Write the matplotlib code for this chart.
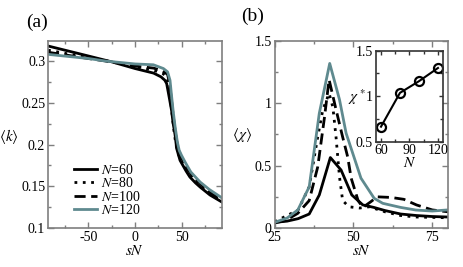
import numpy as np
import matplotlib
matplotlib.use('Agg')
import matplotlib.pyplot as plt
from matplotlib.ticker import MultipleLocator

plt.rcParams['font.family'] = ['Liberation Serif', 'DejaVu Serif']
plt.rcParams['mathtext.fontset'] = 'stix'
plt.rcParams['axes.unicode_minus'] = False

# ---- panel (a): <k> vs sN ----
sn_a60 = [-93.5, -50, -25, 0, 20, 28, 32, 34, 37, 39.4, 41, 43, 44.8, 48.4, 55, 59, 65, 70, 80.6, 93.5]
k_60 = [0.318, 0.306, 0.299, 0.291, 0.2855, 0.281, 0.277, 0.273, 0.255, 0.240, 0.225, 0.212, 0.195, 0.181, 0.168, 0.161, 0.154, 0.149, 0.1395, 0.131]
sn_a80 = [-93.5, -50, -25, 0, 20, 30, 34, 36, 38, 40, 42, 44, 46, 50, 55, 60, 70, 80, 93.5]
k_80 = [0.313, 0.304, 0.299, 0.293, 0.289, 0.285, 0.281, 0.272, 0.255, 0.235, 0.215, 0.200, 0.190, 0.180, 0.170, 0.163, 0.151, 0.141, 0.132]
sn_a100 = [-93.5, -50, -25, 0, 20, 30, 35, 37, 39, 41, 43, 45, 47, 50, 55, 60, 70, 80, 93.5]
k_100 = [0.3105, 0.303, 0.299, 0.294, 0.2915, 0.288, 0.284, 0.274, 0.255, 0.235, 0.217, 0.203, 0.193, 0.184, 0.173, 0.165, 0.153, 0.143, 0.133]
sn_a120 = [-93.5, -50, -32, 0, 19.7, 30.5, 35, 37.6, 39.4, 41, 43, 45.5, 47.5, 50, 53.8, 60, 70, 80, 93.5]
k_120 = [0.308, 0.303, 0.300, 0.2965, 0.2955, 0.291, 0.287, 0.277, 0.257, 0.240, 0.222, 0.203, 0.193, 0.187, 0.179, 0.167, 0.155, 0.146, 0.136]

# ---- panel (b): <chi> vs sN ----
sn_b60 = [25, 29, 32.5, 36, 39.2, 42.7, 46.1, 49.5, 53, 56.5, 60, 65, 70, 75, 80]
chi_60 = [0.045, 0.055, 0.075, 0.112, 0.265, 0.565, 0.465, 0.265, 0.185, 0.165, 0.140, 0.112, 0.100, 0.092, 0.088]
sn_b80 = [25, 29, 32.5, 36, 38.7, 40.3, 42.3, 43.5, 44.5, 45.6, 46.6, 48.6, 52, 55, 60, 65, 70, 75, 80]
chi_80 = [0.05, 0.10, 0.145, 0.33, 0.73, 0.946, 1.08, 0.97, 0.73, 0.41, 0.22, 0.17, 0.16, 0.17, 0.13, 0.10, 0.088, 0.085, 0.082]
sn_b100 = [25, 28.5, 32.4, 36, 38.7, 40.8, 42.3, 44.5, 46.6, 48.2, 49.3, 51.5, 53, 55.5, 57.5, 62, 66, 70, 75, 80]
chi_100 = [0.04, 0.06, 0.118, 0.22, 0.49, 0.88, 1.19, 0.95, 0.73, 0.57, 0.40, 0.22, 0.165, 0.21, 0.25, 0.245, 0.23, 0.185, 0.145, 0.13]
sn_b120 = [25, 29, 32.4, 36, 39.2, 42.5, 45.6, 47.7, 52.4, 56.6, 59.3, 65, 69.8, 75, 80]
chi_120 = [0.045, 0.08, 0.145, 0.33, 0.92, 1.32, 1.03, 0.76, 0.40, 0.238, 0.198, 0.165, 0.144, 0.136, 0.145]

# ---- inset: chi* vs N ----
N_vals = [60, 80, 100, 120]
chi_star = [0.665, 1.037, 1.165, 1.31]

labels = ['$N$=60', '$N$=80', '$N$=100', '$N$=120']
gray = '#5f8a8f'
spine_c = '#7f7f7f'

fig = plt.figure(figsize=(4.63, 2.67), dpi=100)
ax1 = fig.add_axes([0.1037, 0.1461, 0.3758, 0.7004])
ax2 = fig.add_axes([0.5929, 0.1461, 0.3747, 0.7004])
axi = fig.add_axes([0.8114, 0.4693, 0.1454, 0.3408])


def style(ax, c):
    for s in ax.spines.values():
        s.set_color(c)
        s.set_linewidth(1.2)
    ax.tick_params(which='both', direction='in', top=True, right=True,
                   color=c, labelsize=10, pad=2)
    ax.tick_params(which='major', length=4, width=1)
    ax.tick_params(which='minor', length=2.5, width=1)


# panel (a)
ax1.plot(sn_a60, k_60, color='black', lw=2, ls='-', label=labels[0])
ax1.plot(sn_a80, k_80, color='black', lw=2, ls=(0, (1, 2)), label=labels[1])
ax1.plot(sn_a100, k_100, color='black', lw=2, ls=(0, (4, 2)), label=labels[2])
ax1.plot(sn_a120, k_120, color=gray, lw=2, ls='-', label=labels[3])
ax1.set_xlim(-93.5, 93.5)
ax1.set_ylim(0.1, 0.324)
ax1.xaxis.set_major_locator(MultipleLocator(50))
ax1.xaxis.set_minor_locator(MultipleLocator(25))
ax1.yaxis.set_minor_locator(MultipleLocator(0.025))
ax1.set_yticks([0.1, 0.15, 0.2, 0.25, 0.3])
ax1.set_yticklabels(['0.1', '0.15', '0.2', '0.25', '0.3'])
style(ax1, spine_c)
ax1.set_xlabel('$sN$', fontsize=11, labelpad=0)
ax1.legend(loc='lower left', bbox_to_anchor=(0.12, 0.03), frameon=False,
           fontsize=10, handlelength=1.6, handletextpad=0.3,
           labelspacing=-0.05, borderaxespad=0)

# panel (b)
ax2.plot(sn_b60, chi_60, color='black', lw=2, ls='-')
ax2.plot(sn_b80, chi_80, color='black', lw=2, ls=(0, (1, 2)))
ax2.plot(sn_b100, chi_100, color='black', lw=2, ls=(0, (4, 2)))
ax2.plot(sn_b120, chi_120, color=gray, lw=2, ls='-')
ax2.set_xlim(25, 80)
ax2.set_ylim(0, 1.5)
ax2.xaxis.set_major_locator(MultipleLocator(25))
ax2.xaxis.set_minor_locator(MultipleLocator(12.5))
ax2.set_yticks([0, 0.5, 1, 1.5])
ax2.set_yticklabels(['0', '0.5', '1', '1.5'])
ax2.yaxis.set_minor_locator(MultipleLocator(0.25))
style(ax2, spine_c)
ax2.set_xlabel('$sN$', fontsize=11, labelpad=0)

# inset
axi.plot(N_vals, chi_star, color='black', lw=1.5, marker='o', ms=6.5,
         mfc='none', mec='black', mew=1.6)
axi.set_xlim(54.4, 125.3)
axi.set_ylim(0.5, 1.5)
axi.set_xticks([60, 90, 120])
axi.xaxis.set_minor_locator(MultipleLocator(15))
axi.set_yticks([0.5, 1, 1.5])
axi.set_yticklabels(['0.5', '1', '1.5'])
axi.yaxis.set_minor_locator(MultipleLocator(0.25))
style(axi, '#333333')
axi.tick_params(which='major', length=3)
axi.tick_params(which='minor', length=2)
axi.set_xlabel('$N$', fontsize=11, labelpad=-1)

# texts
fig.text(0.0799, 0.9176, '(a)', fontsize=14, ha='center', va='center')
fig.text(0.5464, 0.940, '(b)', fontsize=14, ha='center', va='center')
fig.text(0.0194, 0.487, r'$\langle k\rangle$', fontsize=11, ha='center', va='center')
fig.text(0.5227, 0.494, r'$\langle \chi\rangle$', fontsize=11, ha='center', va='center')
fig.text(0.770, 0.637, r'$\chi^*$', fontsize=11, ha='center', va='center')

plt.savefig('out.png', dpi=100)
